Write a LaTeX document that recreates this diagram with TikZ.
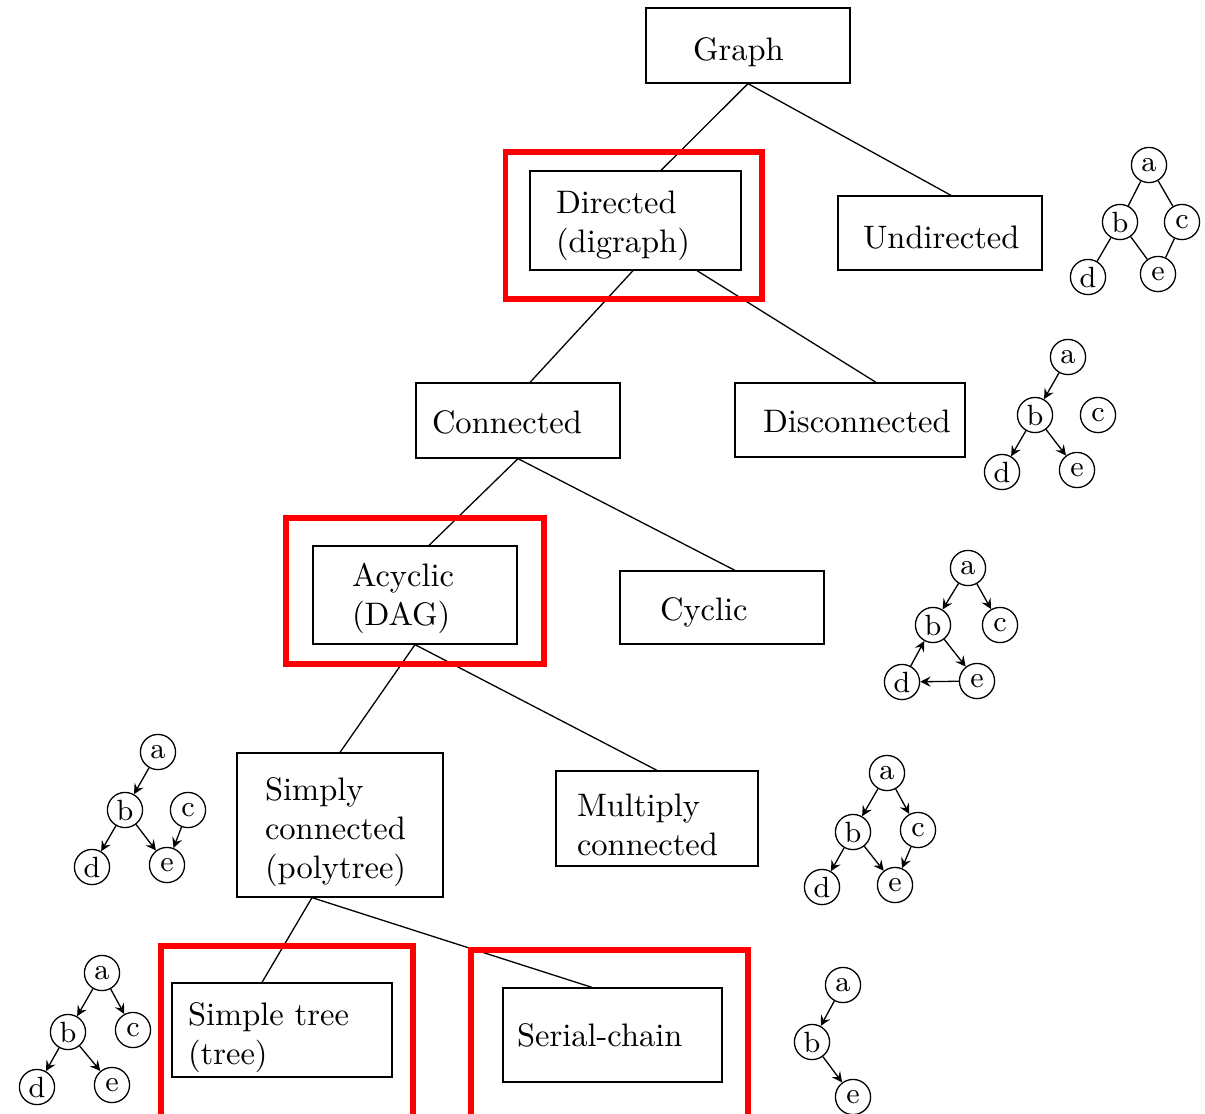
\documentclass[tikz,border=0pt]{standalone}
\usepackage{amsmath}
\usepackage{tikz}
\usetikzlibrary{calc}

\begin{document}
\begin{tikzpicture}[x=0.0108cm,y=-0.0108cm,
  box/.style={draw,align=left,inner sep=0pt},
  lower/.style={execute at begin node={\rule{0pt}{#1}}},
  vtx/.style={draw,circle,inner sep=0pt,minimum size=0.38cm,font=\small},
  hilite/.style={draw=red,line width=1.6pt},
  >=stealth]
  \useasboundingbox (0,0) rectangle (1205,1113);
  % classification tree
  \node[box,lower=11.24pt,minimum width=2.203cm,minimum height=0.81cm,text width=1.188cm] (graph) at (748,45.5) {Graph};
  \node[box,lower=10.04pt,minimum width=2.279cm,minimum height=1.069cm,text width=1.717cm] (directed) at (635.5,220.5) {Directed\\(digraph)};
  \node[box,lower=9.44pt,minimum width=2.203cm,minimum height=0.799cm,text width=1.663cm] (undirected) at (940,233) {Undirected};
  \node[box,lower=8.14pt,minimum width=2.203cm,minimum height=0.81cm,text width=1.858cm] (connected) at (518,420.5) {Connected};
  \node[box,lower=7.54pt,minimum width=2.484cm,minimum height=0.799cm,text width=1.879cm] (disconnected) at (850,420) {Disconnected};
  \node[box,lower=9.04pt,minimum width=2.203cm,minimum height=1.058cm,text width=1.361cm] (acyclic) at (415,595) {Acyclic\\(DAG)};
  \node[box,lower=10.04pt,minimum width=2.203cm,minimum height=0.788cm,text width=1.339cm] (cyclic) at (722,607.5) {Cyclic};
  \node[box,lower=11.24pt,minimum width=2.225cm,minimum height=1.555cm,text width=1.62cm] (simply) at (340,825) {Simply\\connected\\(polytree)};
  \node[box,lower=10.94pt,minimum width=2.182cm,minimum height=1.026cm,text width=1.728cm] (multiply) at (657,818.5) {Multiply\\connected};
  \node[box,lower=11.54pt,minimum width=2.376cm,minimum height=1.015cm,text width=2.03cm] (tree) at (282,1030) {Simple tree\\(tree)};
  \node[box,minimum width=2.365cm,minimum height=1.015cm,text width=2.063cm] (serial) at (612.5,1035) {Serial-chain};

  \draw (graph.south) -- ($(directed.north)+(25.5,0)$);
  \draw (graph.south) -- ($(undirected.north)+(11,0)$);
  \draw ($(directed.south)+(-2.5,0)$) -- ($(connected.north)+(12,0)$);
  \draw ($(directed.south)+(61.5,0)$) -- ($(disconnected.north)+(26,0)$);
  \draw (connected.south) -- ($(acyclic.north)+(14,0)$);
  \draw (connected.south) -- ($(cyclic.north)+(13,0)$);
  \draw (acyclic.south) -- (simply.north);
  \draw (acyclic.south) -- (multiply.north);
  \draw ($(simply.south)+(-28,0)$) -- ($(tree.north)+(-20,0)$);
  \draw ($(simply.south)+(-28,0)$) -- ($(serial.north)+(-20.5,0)$);

  % highlighted classes
  \draw[hilite] (505.5,152) rectangle (762,299);
  \draw[hilite] (286,518) rectangle (544,664);
  \draw[hilite] (161,946) rectangle (413,1130);
  \draw[hilite] (471,950) rectangle (748,1130);

  % undirected
  \node[vtx] (ua) at (1149,165) {a};
  \node[vtx] (ub) at (1120,222) {b};
  \node[vtx] (uc) at (1182,222) {c};
  \node[vtx] (ud) at (1088,277) {d};
  \node[vtx] (ue) at (1158,274) {e};
  \draw (ua) -- (ub);
  \draw (ua) -- (uc);
  \draw (ub) -- (ud);
  \draw (ub) -- (ue);
  \draw (uc) -- (ue);

  % disconnected
  \node[vtx] (da) at (1068,357) {a};
  \node[vtx] (db) at (1035,415) {b};
  \node[vtx] (dc) at (1098,415) {c};
  \node[vtx] (dd) at (1002,472) {d};
  \node[vtx] (de) at (1077,470) {e};
  \draw[->] (da) -- (db);
  \draw[->] (db) -- (dd);
  \draw[->] (db) -- (de);

  % cyclic
  \node[vtx] (ca) at (968,568) {a};
  \node[vtx] (cb) at (933,625) {b};
  \node[vtx] (cc) at (1000,625) {c};
  \node[vtx] (cd) at (902,682) {d};
  \node[vtx] (ce) at (977,681) {e};
  \draw[->] (ca) -- (cb);
  \draw[->] (ca) -- (cc);
  \draw[->] (cb) -- (ce);
  \draw[->] (ce) -- (cd);
  \draw[->] (cd) -- (cb);

  % polytree
  \node[vtx] (pa) at (158,752) {a};
  \node[vtx] (pb) at (125,810) {b};
  \node[vtx] (pc) at (188,810) {c};
  \node[vtx] (pd) at (92,867) {d};
  \node[vtx] (pe) at (167,865) {e};
  \draw[->] (pa) -- (pb);
  \draw[->] (pb) -- (pd);
  \draw[->] (pb) -- (pe);
  \draw[->] (pc) -- (pe);

  % multiply connected
  \node[vtx] (ma) at (887,773) {a};
  \node[vtx] (mb) at (853,832) {b};
  \node[vtx] (mc) at (918,830) {c};
  \node[vtx] (md) at (822,887) {d};
  \node[vtx] (me) at (895,885) {e};
  \draw[->] (ma) -- (mb);
  \draw[->] (ma) -- (mc);
  \draw[->] (mb) -- (md);
  \draw[->] (mb) -- (me);
  \draw[->] (mc) -- (me);

  % tree
  \node[vtx] (ta) at (102,973) {a};
  \node[vtx] (tb) at (68,1032) {b};
  \node[vtx] (tc) at (133,1030) {c};
  \node[vtx] (td) at (37,1087) {d};
  \node[vtx] (te) at (112,1085) {e};
  \draw[->] (ta) -- (tb);
  \draw[->] (ta) -- (tc);
  \draw[->] (tb) -- (td);
  \draw[->] (tb) -- (te);

  % serial chain
  \node[vtx] (sa) at (843,985) {a};
  \node[vtx] (sb) at (812,1042) {b};
  \node[vtx] (se) at (853,1097) {e};
  \draw[->] (sa) -- (sb);
  \draw[->] (sb) -- (se);
\end{tikzpicture}
\end{document}
